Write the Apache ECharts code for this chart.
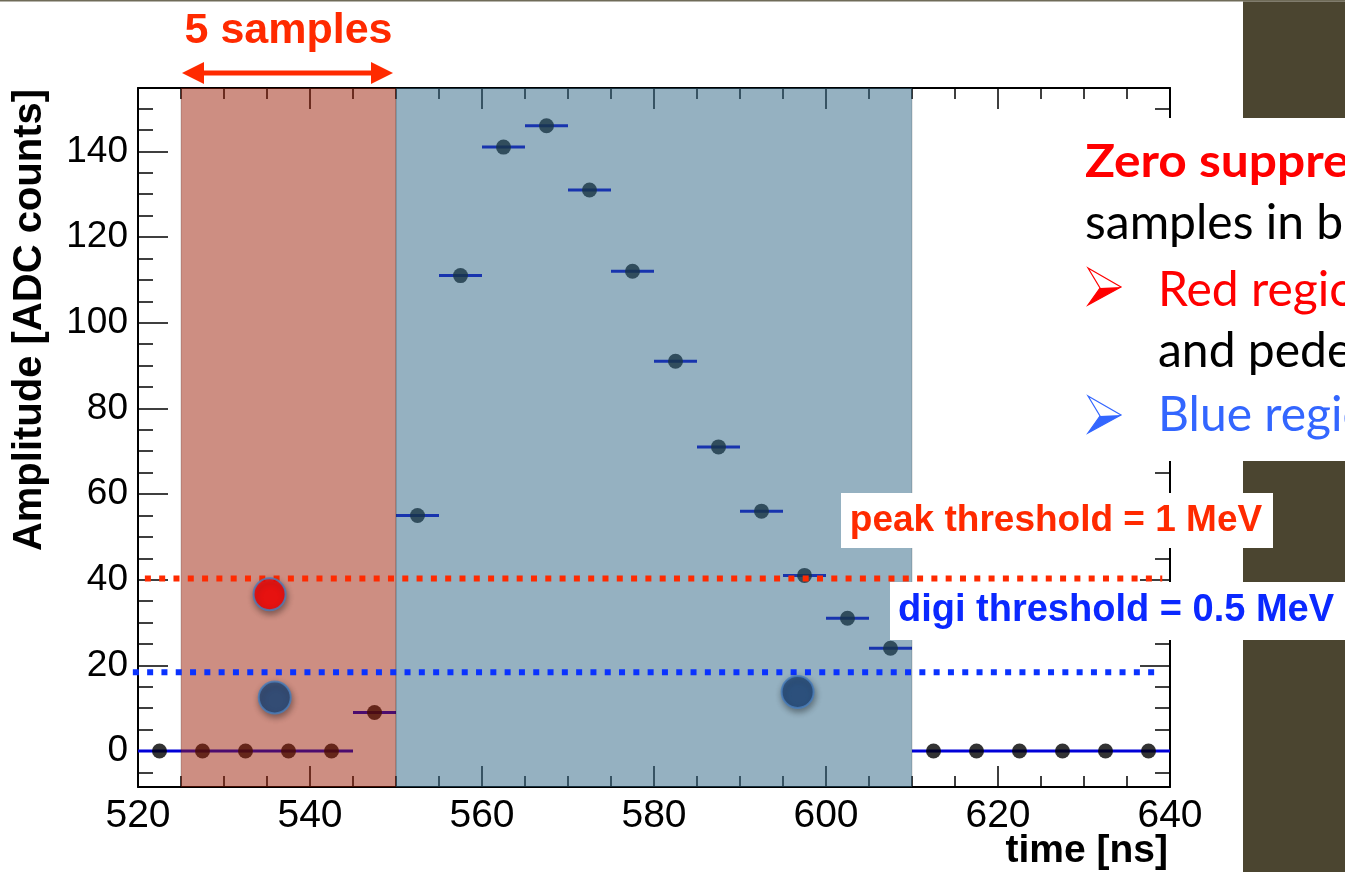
<!DOCTYPE html>
<html>
<head>
<meta charset="utf-8">
<script src="https://cdn.jsdelivr.net/npm/echarts@6/dist/echarts.min.js"></script>
<style>
  html, body { margin: 0; padding: 0; background: #fff; }
  #chart { width: 1345px; height: 872px; }
</style>
</head>
<body>
<div id="chart"></div>
<script>
// digitised waveform: bin centres [ns] and amplitudes [ADC counts]
const sampleTimes = [522.5, 527.5, 532.5, 537.5, 542.5, 547.5, 552.5, 557.5,
  562.5, 567.5, 572.5, 577.5, 582.5, 587.5, 592.5, 597.5, 602.5, 607.5,
  612.5, 617.5, 622.5, 627.5, 632.5, 637.5]
const amplitudes = [0, 0, 0, 0, 0, 9, 55, 111,
  141, 146, 131, 112, 91, 71, 56, 41, 31, 24,
  0, 0, 0, 0, 0, 0]
const binHalfWidth = 2.5

// axes
const xRange = [520, 640]
const yRange = [-8.4, 154.8]
const yMajorTicks = [0, 20, 40, 60, 80, 100, 120, 140]
const yMinorTicks = [-5, 5, 10, 15, 25, 30, 35, 45, 50, 55, 65, 70, 75, 85, 90, 95,
  105, 110, 115, 125, 130, 135, 145, 150]

// shaded regions [from, to] in ns
const redRegion = [525, 550]
const blueRegion = [550, 610]

// threshold lines [from ns, to ns, amplitude]
const peakLine = [520.8, 639.1, 40.3]
const digiLine = [519.4, 638.5, 18.4]

// slide markers [ns, amplitude]
const redMarkers = [[535.3, 36.6]]
const blueMarkers = [[535.9, 12.5], [596.7, 13.8]]

const axisFont = '"Liberation Sans", Arial, Helvetica, sans-serif'
const slideFont = 'Lato, "Noto Sans", sans-serif'

const chart = echarts.init(document.getElementById('chart'))

function xAxisCfg(position, showLabels) {
  return {
    type: 'value', position, min: xRange[0], max: xRange[1], interval: 20,
    axisLine: { show: true, onZero: false, lineStyle: { color: '#000', width: 2 } },
    axisTick: { show: true, inside: true, length: 21, lineStyle: { color: '#000', width: 1.5 } },
    minorTick: { show: true, splitNumber: 4, length: 11, lineStyle: { color: '#000', width: 1.5 } },
    axisLabel: { show: showLabels, margin: 10, fontSize: 39, color: '#000', fontFamily: axisFont },
    splitLine: { show: false },
    minorSplitLine: { show: false }
  }
}

function yAxisCfg(position, ticks, tickLen, showLine, showLabels) {
  return {
    type: 'value', position, min: yRange[0], max: yRange[1],
    axisLine: { show: showLine, onZero: false, lineStyle: { color: '#000', width: 2 } },
    axisTick: { show: true, inside: true, length: tickLen, customValues: ticks,
      lineStyle: { color: '#000', width: 1.5 } },
    axisLabel: { show: showLabels, customValues: ticks, margin: 10, fontSize: 37,
      color: '#000', fontFamily: axisFont },
    splitLine: { show: false }
  }
}

const option = {
  animation: false,
  backgroundColor: '#fff',
  grid: { left: 138, right: 175, top: 88, bottom: 85, containLabel: false },
  xAxis: [xAxisCfg('bottom', true), xAxisCfg('top', false)],
  yAxis: [
    yAxisCfg('left', yMajorTicks, 30, true, true),
    yAxisCfg('left', yMinorTicks, 15, false, false),
    yAxisCfg('right', yMajorTicks, 30, true, false),
    yAxisCfg('right', yMinorTicks, 15, false, false)
  ],
  series: [
    {
      // horizontal error bars (bin width)
      type: 'custom', z: 2, silent: true,
      data: sampleTimes.map((t, i) => [t, amplitudes[i]]),
      renderItem: (params, api) => {
        const a = api.coord([api.value(0) - binHalfWidth, api.value(1)])
        const b = api.coord([api.value(0) + binHalfWidth, api.value(1)])
        return { type: 'line', shape: { x1: a[0], y1: a[1], x2: b[0], y2: b[1] },
          style: { stroke: '#0000d8', lineWidth: 3 } }
      }
    },
    {
      type: 'scatter', z: 3, silent: true,
      symbolSize: 15,
      itemStyle: { color: '#000' },
      data: sampleTimes.map((t, i) => [t, amplitudes[i]])
    },
    {
      // translucent regions laid over the plot
      type: 'custom', z: 5, silent: true,
      data: [redRegion, blueRegion],
      renderItem: (params, api) => {
        const cs = params.coordSys
        const x0 = api.coord([api.value(0), 0])[0]
        const x1 = api.coord([api.value(1), 0])[0]
        const fills = ['rgba(153,24,0,0.49)', 'rgba(47,102,133,0.51)']
        return { type: 'rect', shape: { x: x0, y: cs.y, width: x1 - x0, height: cs.height },
          style: { fill: fills[params.dataIndex], stroke: 'rgba(0,0,0,0.12)', lineWidth: 1.5 } }
      }
    },
    {
      // dotted threshold lines
      type: 'custom', z: 8, silent: true,
      data: [peakLine, digiLine],
      renderItem: (params, api) => {
        const a = api.coord([api.value(0), api.value(2)])
        const b = api.coord([api.value(1), api.value(2)])
        const colors = ['#ff2a00', '#0a32ff']
        return { type: 'line', shape: { x1: a[0], y1: a[1], x2: b[0], y2: b[1] },
          style: { stroke: colors[params.dataIndex], lineWidth: 6, lineDash: [6, 8.3] } }
      }
    },
    {
      type: 'scatter', z: 10, silent: true, symbolSize: 32,
      itemStyle: { color: '#ff0000', borderColor: '#4a7ebb', borderWidth: 2,
        shadowBlur: 6, shadowOffsetX: 1, shadowOffsetY: 3, shadowColor: 'rgba(0,0,0,0.45)' },
      data: redMarkers
    },
    {
      type: 'scatter', z: 10, silent: true, symbolSize: 32,
      itemStyle: { color: '#1f497d', borderColor: '#4a7ebb', borderWidth: 2,
        shadowBlur: 6, shadowOffsetX: 1, shadowOffsetY: 3, shadowColor: 'rgba(0,0,0,0.45)' },
      data: blueMarkers
    }
  ]
}

chart.setOption(option)

// the "5 samples" arrow spans the red region
const ax0 = chart.convertToPixel({ xAxisIndex: 0 }, redRegion[0])
const ax1 = chart.convertToPixel({ xAxisIndex: 0 }, redRegion[1])
const arrowY = 73

function bullet(cy, color) {
  return [
    { type: 'polygon', z: 110,
      shape: { points: [[1088, cy - 19], [1121, cy], [1088, cy + 18], [1100, cy + 1]] },
      style: { fill: '#fff', stroke: color, lineWidth: 1.2 } },
    { type: 'polygon', z: 111,
      shape: { points: [[1088, cy + 18], [1100, cy + 1], [1121, cy]] },
      style: { fill: color } }
  ]
}

chart.setOption({
  graphic: { elements: [
    // slide decoration
    { type: 'rect', z: 100, shape: { x: 0, y: 0, width: 1345, height: 1.5 }, style: { fill: '#6f6b58' } },
    { type: 'rect', z: 100, shape: { x: 1243, y: 1.5, width: 102, height: 117 }, style: { fill: '#4b4530' } },
    { type: 'rect', z: 100, shape: { x: 1243, y: 461, width: 102, height: 411 }, style: { fill: '#4b4530' } },
    { type: 'rect', z: 101, shape: { x: 1060, y: 118, width: 285, height: 343 }, style: { fill: '#fff' } },
    { type: 'text', z: 105, x: 1085, y: 162, scaleX: 1.08,
      style: { text: 'Zero suppression', fill: '#ff0000', fontSize: 46, fontWeight: 'bold',
        fontFamily: slideFont, verticalAlign: 'middle' } },
    { type: 'text', z: 105, x: 1085, y: 224,
      style: { text: 'samples in both', fill: '#000', fontSize: 48,
        fontFamily: slideFont, verticalAlign: 'middle' } },
    { type: 'text', z: 105, x: 1158, y: 291,
      style: { text: 'Red region', fill: '#ff0000', fontSize: 48,
        fontFamily: slideFont, verticalAlign: 'middle' } },
    { type: 'text', z: 105, x: 1158, y: 352,
      style: { text: 'and pedestal', fill: '#000', fontSize: 48,
        fontFamily: slideFont, verticalAlign: 'middle' } },
    { type: 'text', z: 105, x: 1158, y: 416,
      style: { text: 'Blue region', fill: '#3366ff', fontSize: 48,
        fontFamily: slideFont, verticalAlign: 'middle' } },
    ...bullet(287, '#ff0000'),
    ...bullet(415, '#3366ff'),

    // threshold labels
    { type: 'rect', z: 101, shape: { x: 841, y: 493, width: 432, height: 55 }, style: { fill: '#fff' } },
    { type: 'text', z: 105, x: 1056, y: 521,
      style: { text: 'peak threshold = 1 MeV', fill: '#ff2a00', fontSize: 37, fontWeight: 'bold',
        fontFamily: axisFont, align: 'center', verticalAlign: 'middle' } },
    { type: 'rect', z: 101, shape: { x: 890, y: 582, width: 455, height: 58 }, style: { fill: '#fff' } },
    { type: 'text', z: 105, x: 1116, y: 611,
      style: { text: 'digi threshold = 0.5 MeV', fill: '#0a28ff', fontSize: 38, fontWeight: 'bold',
        fontFamily: axisFont, align: 'center', verticalAlign: 'middle' } },

    // axis titles
    { type: 'text', z: 105, x: 30, y: 320, rotation: Math.PI / 2,
      style: { text: 'Amplitude [ADC counts]', fill: '#000', fontSize: 40, fontWeight: 'bold',
        fontFamily: axisFont, align: 'center', verticalAlign: 'middle' } },
    { type: 'text', z: 105, x: 1168, y: 851,
      style: { text: 'time [ns]', fill: '#000', fontSize: 39, fontWeight: 'bold',
        fontFamily: axisFont, align: 'right', verticalAlign: 'middle' } },

    // 5 samples annotation
    { type: 'text', z: 105, x: (ax0 + ax1) / 2, y: 31,
      style: { text: '5 samples', fill: '#ff2a00', fontSize: 43, fontWeight: 'bold',
        fontFamily: axisFont, align: 'center', verticalAlign: 'middle' } },
    { type: 'line', z: 105, shape: { x1: ax0 + 12, y1: arrowY, x2: ax1 - 12, y2: arrowY },
      style: { stroke: '#ff2a00', lineWidth: 5 } },
    { type: 'polygon', z: 105,
      shape: { points: [[ax0 + 1, arrowY], [ax0 + 23, arrowY - 11], [ax0 + 23, arrowY + 11]] },
      style: { fill: '#ff2a00' } },
    { type: 'polygon', z: 105,
      shape: { points: [[ax1 - 3, arrowY], [ax1 - 25, arrowY - 11], [ax1 - 25, arrowY + 11]] },
      style: { fill: '#ff2a00' } }
  ] }
})
</script>
</body>
</html>
